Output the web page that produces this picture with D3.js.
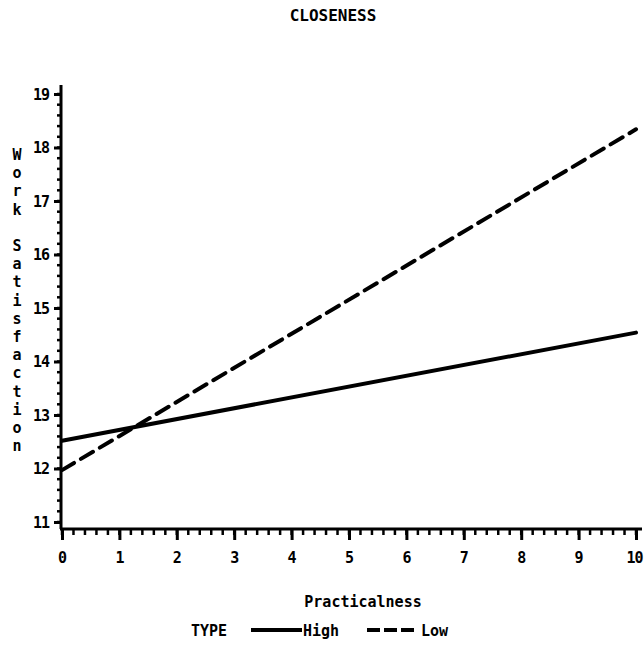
<!DOCTYPE html>
<html>
<head>
<meta charset="utf-8">
<script src="https://cdn.jsdelivr.net/npm/d3@7"></script>
<style>
  body { margin: 0; background: #fff; }
  text { font-family: "DejaVu Sans Mono", monospace; font-weight: bold; fill: #000; }
</style>
</head>
<body>
<div id="chart"></div>
<script>
// data
var practicalness = [0, 10];
var highValues = [12.52, 14.54];
var lowValues = [11.97, 18.34];
var xTicks = [0, 1, 2, 3, 4, 5, 6, 7, 8, 9, 10];
var yTicks = [11, 12, 13, 14, 15, 16, 17, 18, 19];
var seriesNames = ["High", "Low"];

var width = 644, height = 650;

var svg = d3.select("#chart").append("svg")
    .attr("width", width)
    .attr("height", height);

var x = d3.scaleLinear().domain([0, 10]).range([62, 636]);
var y = d3.scaleLinear().domain([11, 19]).range([522, 94]);
var axisY = 529; // horizontal axis sits a little under the 11 tick

// title
svg.append("text")
    .attr("x", 333).attr("y", 21)
    .attr("text-anchor", "middle")
    .style("font-size", "16px")
    .text("CLOSENESS");

// y axis: line, minor and major ticks
svg.append("line")
    .attr("x1", 61).attr("x2", 61)
    .attr("y1", 85).attr("y2", axisY)
    .attr("stroke", "#000").attr("stroke-width", 3);

var yMinor = d3.range(11, 19.001, 0.2);
svg.append("g").selectAll("line")
    .data(yMinor)
    .enter().append("line")
    .attr("x1", 57).attr("x2", 61)
    .attr("y1", function(d){ return y(d); })
    .attr("y2", function(d){ return y(d); })
    .attr("stroke", "#000").attr("stroke-width", 2.5);

var yAxis = d3.axisLeft(y).tickValues(yTicks).tickSize(7).tickPadding(5).tickFormat(d3.format("d"));
var gy = svg.append("g").attr("transform", "translate(61,0)").call(yAxis);
gy.select(".domain").remove();
gy.selectAll(".tick line").attr("stroke-width", 3);
gy.selectAll(".tick text").style("font-size", "15px").style("letter-spacing", "-1px").attr("dy", "0.35em");

// x axis
svg.append("line")
    .attr("x1", 60).attr("x2", 642)
    .attr("y1", axisY).attr("y2", axisY)
    .attr("stroke", "#000").attr("stroke-width", 3);

var xMinor = d3.range(0, 10.001, 0.2);
svg.append("g").selectAll("line")
    .data(xMinor)
    .enter().append("line")
    .attr("x1", function(d){ return x(d); })
    .attr("x2", function(d){ return x(d); })
    .attr("y1", axisY).attr("y2", axisY + 6)
    .attr("stroke", "#000").attr("stroke-width", 2.5);

var xAxis = d3.axisBottom(x).tickValues(xTicks).tickSize(11).tickPadding(12).tickFormat(d3.format("d"));
var gx = svg.append("g").attr("transform", "translate(0," + axisY + ")").call(xAxis);
gx.select(".domain").remove();
gx.selectAll(".tick line").attr("stroke-width", 3);
gx.selectAll(".tick text").style("font-size", "15px")
    .style("letter-spacing", function(d){ return d >= 10 ? "-1px" : null; })
    .attr("text-anchor", function(d){ return d >= 10 ? "end" : "middle"; })
    .attr("x", function(d){ return d >= 10 ? 6 : 0; });

// axis labels
svg.append("text")
    .attr("x", 363).attr("y", 607)
    .attr("text-anchor", "middle")
    .style("font-size", "15px")
    .text("Practicalness");

var yLabel = "Work Satisfaction".split("");
svg.append("g").selectAll("text")
    .data(yLabel)
    .enter().append("text")
    .attr("x", 17)
    .attr("y", function(d, i){ return 160 + i * 18.2; })
    .attr("text-anchor", "middle")
    .style("font-size", "15px")
    .text(function(d){ return d; });

// regression lines
var line = d3.line()
    .x(function(d){ return x(d[0]); })
    .y(function(d){ return y(d[1]); });

var series = [
  { name: seriesNames[0], values: d3.zip(practicalness, highValues), dash: null },
  { name: seriesNames[1], values: d3.zip(practicalness, lowValues), dash: "14,8" }
];

svg.append("g").selectAll("path")
    .data(series)
    .enter().append("path")
    .attr("d", function(d){ return line(d.values); })
    .attr("fill", "none")
    .attr("stroke", "#000")
    .attr("stroke-width", 4)
    .attr("stroke-linecap", "round")
    .attr("stroke-dasharray", function(d){ return d.dash; });

// legend
var legendY = 630;
svg.append("text")
    .attr("x", 191).attr("y", legendY + 6)
    .style("font-size", "15px")
    .text("TYPE");

var legendPos = [251, 367];
var legend = svg.append("g").selectAll("g")
    .data(series)
    .enter().append("g")
    .attr("transform", function(d, i){ return "translate(" + legendPos[i] + "," + legendY + ")"; });

legend.append("line")
    .attr("x1", 0).attr("x2", function(d, i){ return i === 0 ? 51 : 48; })
    .attr("y1", 0).attr("y2", 0)
    .attr("stroke", "#000").attr("stroke-width", 4)
    .attr("stroke-dasharray", function(d){ return d.dash ? "13,4" : null; });

legend.append("text")
    .attr("x", function(d, i){ return i === 0 ? 52 : 54; })
    .attr("y", 6)
    .style("font-size", "15px")
    .text(function(d){ return d.name; });
</script>
</body>
</html>
